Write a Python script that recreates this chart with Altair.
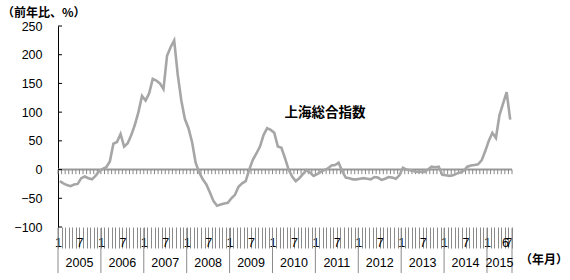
import altair as alt
import pandas as pd

# ---- data (monthly, Jan 2005 - Jul 2015, y/y %) ----
years = ["2005", "2006", "2007", "2008", "2009", "2010", "2011", "2012", "2013", "2014", "2015"]
v2005 = [-20, -24, -27, -29, -26, -25, -15, -12, -15, -17, -11, -3]
v2006 = [1, 4, 14, 45, 48, 62, 40, 46, 60, 78, 100, 128]
v2007 = [120, 133, 158, 155, 150, 140, 198, 213, 225, 165, 120, 88]
v2008 = [72, 48, 12, -5, -17, -26, -40, -55, -63, -61, -59, -58]
v2009 = [-50, -44, -30, -24, -20, 0, 17, 28, 40, 60, 72, 69]
v2010 = [64, 40, 38, 20, 0, -12, -20, -15, -8, -1, -5, -11]
v2011 = [-8, -4, -1, 2, 7, 8, 12, -3, -14, -15, -17, -17]
v2012 = [-16, -15, -16, -17, -13, -14, -18, -16, -13, -14, -16, -10]
v2013 = [3, 0, -1, -3, -4, -4, -4, 0, 5, 4, 5, -9]
v2014 = [-10, -11, -10, -7, -5, -2, 5, 7, 8, 9, 16, 32]
v2015 = [50, 64, 55, 95, 115, 135, 87]

series = [v2005, v2006, v2007, v2008, v2009, v2010, v2011, v2012, v2013, v2014, v2015]
values = [v for ys in series for v in ys]
n_months = len(values)  # 127

y_ticks = [-100, -50, 0, 50, 100, 150, 200, 250]
series_label = "上海総合指数"
y_title = "（前年比、%）"
x_title = "（年月）"

df = pd.DataFrame({"t": [i + 0.5 for i in range(n_months)], "v": values})
bounds = list(range(n_months + 1))
df_bounds = pd.DataFrame({"m": bounds, "y0": [0] * len(bounds), "y1": [-8] * len(bounds)})
year_starts = [i * 12 for i in range(len(years))] + [n_months]
df_sep = pd.DataFrame({"m": year_starts})
df_years = pd.DataFrame({
    "year": years,
    "c": [(year_starts[i] + year_starts[i + 1]) / 2 for i in range(len(years))],
})
df_yt = pd.DataFrame({"v": y_ticks})

W, H = 454, 201
xs = alt.Scale(domain=[0, n_months], nice=False, zero=False)
ys = alt.Scale(domain=[-100, 250], nice=False, zero=False)

label_expr = ("datum.value % 12 == 0 ? '1' : (datum.value % 12 == 6 ? '7' : "
              "(datum.value == 125 ? '6' : ''))")

line = alt.Chart(df).mark_line(color="#A6A6A6", strokeWidth=2.6).encode(
    x=alt.X("t:Q", scale=xs, axis=alt.Axis(
        values=bounds, tickCount=500, tickSize=21, tickColor="#8a8a8a", tickWidth=1,
        domain=False, grid=False, labelExpr=label_expr, labelPadding=-12,
        labelFontSize=12.5, labelColor="black", labelFont="Liberation Sans",
        labelFlush=False, labelOverlap=False, labelBound=False, title=None)),
    y=alt.Y("v:Q", scale=ys, axis=alt.Axis(
        values=y_ticks, tickCount=50, tickSize=0, domainColor="black", domainWidth=1,
        labelFontSize=12.5, labelPadding=16, labelColor="black",
        labelFont="Liberation Sans", labelOverlap=False, grid=False, title=None)),
)

zero = alt.Chart(pd.DataFrame({"y": [0]})).mark_rule(color="#999999", strokeWidth=2).encode(
    y=alt.Y("y:Q", scale=ys))

zero_ticks = alt.Chart(df_bounds).mark_rule(color="#888888", strokeWidth=1).encode(
    x=alt.X("m:Q", scale=xs), y=alt.Y("y0:Q", scale=ys), y2="y1:Q")

ytick_marks = alt.Chart(df_yt).mark_rule(color="black", strokeWidth=1).encode(
    y=alt.Y("v:Q", scale=ys), x=alt.value(0), x2=alt.value(4))

seps = alt.Chart(df_sep).mark_rule(color="#8a8a8a", strokeWidth=1).encode(
    x=alt.X("m:Q", scale=xs), y=alt.value(H + 1), y2=alt.value(H + 46))

year_text = alt.Chart(df_years).mark_text(
    fontSize=12.5, font="Liberation Sans", color="black", baseline="middle").encode(
    x=alt.X("c:Q", scale=xs), y=alt.value(H + 36), text="year:N")

one = pd.DataFrame({"a": [0]})
ytitle = alt.Chart(one).mark_text(
    text=y_title, fontSize=12, fontWeight="bold", font="Noto Sans CJK JP",
    color="black", align="left", baseline="middle").encode(
    x=alt.value(-56), y=alt.value(-13))

xtitle = alt.Chart(one).mark_text(
    text=x_title, fontSize=12, fontWeight="bold", font="Noto Sans CJK JP",
    color="black", align="center", baseline="middle").encode(
    x=alt.value(486), y=alt.value(234))

label = alt.Chart(one).mark_text(
    text=series_label, fontSize=13.5, fontWeight="bold", font="Noto Sans CJK JP",
    color="black", align="center", baseline="middle").encode(
    x=alt.value(267), y=alt.value(87))

chart = alt.layer(
    zero, zero_ticks, line, ytick_marks, seps, year_text, ytitle, xtitle, label
).properties(
    width=W, height=H,
    autosize=alt.AutoSizeParams(type="none"),
    padding={"left": 58, "top": 26, "right": 58, "bottom": 53},
    background="white",
).configure_view(stroke=None)

chart.save("out.html", embed_options={"renderer": "svg", "actions": False})
